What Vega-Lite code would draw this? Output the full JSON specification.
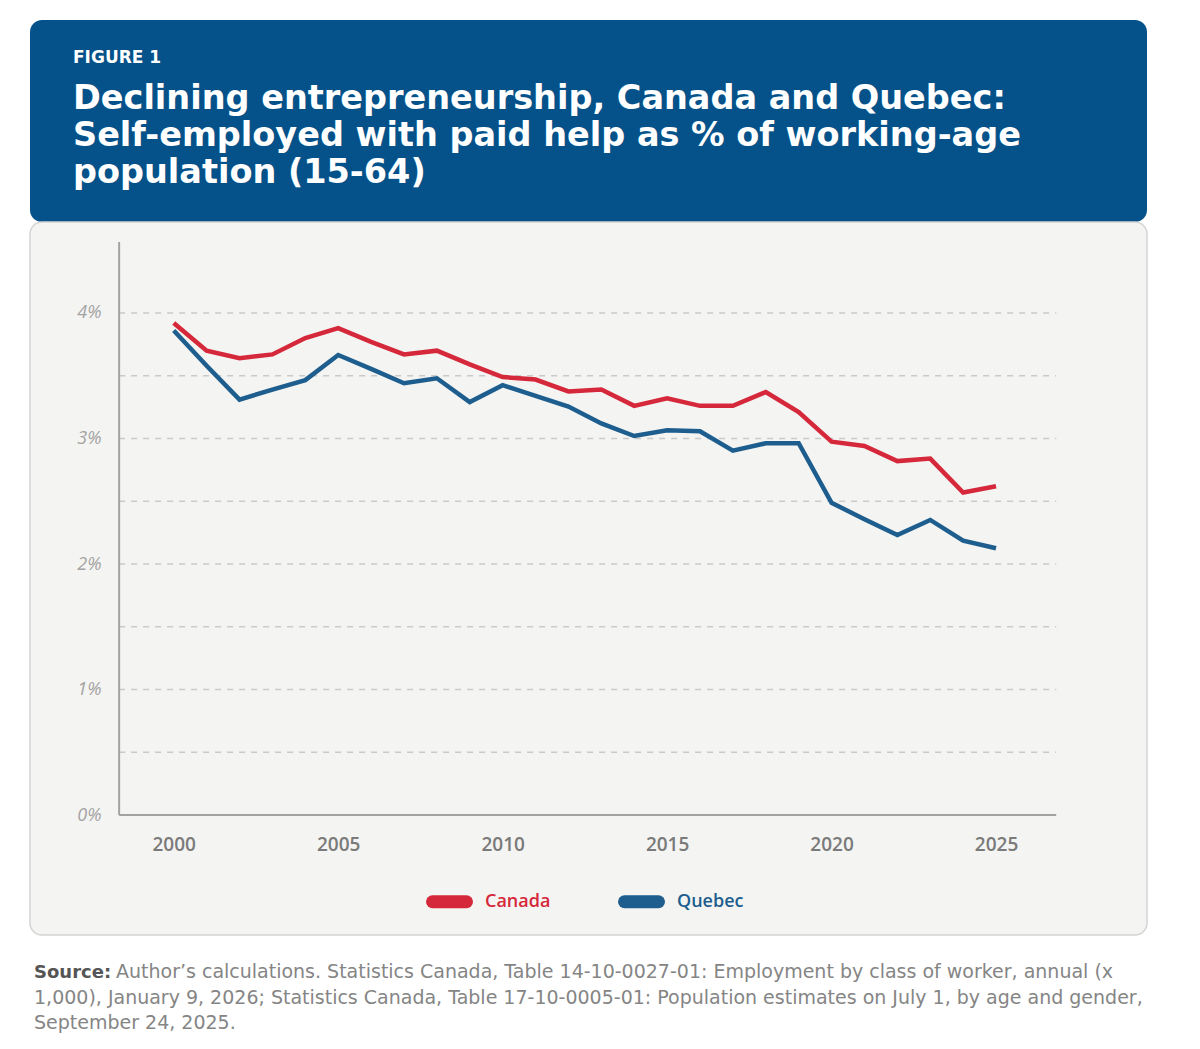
{
  "$schema": "https://vega.github.io/schema/vega-lite/v6.json",
  "background": "#ffffff",
  "padding": {"left": 29, "top": 20, "right": 54, "bottom": 10},
  "bounds": "flush",
  "spacing": 0,
  "config": {"font": "Open Sans"},
  "vconcat": [
    {
      "width": 1117,
      "height": 202,
      "view": {"fill": "#05528a", "stroke": null, "cornerRadius": 12},
      "title": {
        "text": "FIGURE 1",
        "subtitle": [
          "Declining entrepreneurship, Canada and Quebec:",
          "Self-employed with paid help as % of working-age",
          "population (15-64)"
        ],
        "orient": "top",
        "anchor": "start",
        "frame": "group",
        "offset": -170,
        "dx": 43,
        "font": "DejaVu Sans",
        "fontSize": 17,
        "fontWeight": 700,
        "color": "#ffffff",
        "subtitleFont": "DejaVu Sans",
        "subtitleFontSize": 33.5,
        "subtitleFontWeight": 700,
        "subtitleColor": "#ffffff",
        "subtitleLineHeight": 37,
        "subtitlePadding": 16
      },
      "data": {"values": []},
      "mark": "text"
    },
    {
      "width": 1117,
      "height": 713,
      "view": {"fill": "#f4f4f2", "stroke": "#d4d4d4", "strokeWidth": 1.5, "cornerRadius": 12},
      "title": {
        "text": "Source:",
        "subtitle": [
          "1,000), January 9, 2026; Statistics Canada, Table 17-10-0005-01: Population estimates on July 1, by age and gender,",
          "September 24, 2025."
        ],
        "orient": "bottom",
        "anchor": "start",
        "frame": "group",
        "offset": 29,
        "dx": 4,
        "font": "DejaVu Sans",
        "fontSize": 18,
        "fontWeight": 700,
        "color": "#555555",
        "subtitleFont": "DejaVu Sans",
        "subtitleFontSize": 19,
        "subtitleFontWeight": 400,
        "subtitleColor": "#858585",
        "subtitleLineHeight": 25,
        "subtitlePadding": 7
      },
      "layer": [
        {
          "data": {"values": [{"g": 0.5}, {"g": 1}, {"g": 1.5}, {"g": 2}, {"g": 2.5}, {"g": 3}, {"g": 3.5}, {"g": 4}]},
          "mark": {"type": "rule", "color": "#c9c9c9", "strokeWidth": 1.5, "strokeDash": [6, 6]},
          "encoding": {
            "y": {
              "field": "g",
              "type": "quantitative",
              "scale": {"domain": [-0.956, 4.725], "nice": false, "zero": false},
              "axis": {
                "title": null, "orient": "left", "offset": -89, "values": [0, 1, 2, 3, 4],
                "labelExpr": "datum.value + '%'", "domain": false, "ticks": false, "grid": false,
                "labelPadding": 18, "labelFont": "Open Sans", "labelFontSize": 18,
                "labelFontStyle": "italic", "labelFontWeight": 400, "labelColor": "#a3a3a3"
              }
            },
            "x": {
              "datum": 1998.34,
              "type": "quantitative",
              "scale": {"domain": [1995.63, 2029.59], "nice": false, "zero": false},
              "axis": {
                "title": null, "orient": "bottom", "offset": -120,
                "values": [2000, 2005, 2010, 2015, 2020, 2025], "format": "d",
                "domain": false, "ticks": false, "grid": false, "labelPadding": 20,
                "labelFont": "Open Sans", "labelFontSize": 19, "labelFontWeight": 600, "labelColor": "#7a7a7a"
              }
            },
            "x2": {"datum": 2026.83}
          }
        },
        {
          "data": {"values": [{}]},
          "mark": {"type": "rule", "color": "#a3a3a3", "strokeWidth": 2},
          "encoding": {
            "y": {"datum": 0, "type": "quantitative"},
            "x": {"datum": 1998.34, "type": "quantitative"},
            "x2": {"datum": 2026.83}
          }
        },
        {
          "data": {"values": [{}]},
          "mark": {"type": "rule", "color": "#a3a3a3", "strokeWidth": 2},
          "encoding": {
            "x": {"datum": 1998.34, "type": "quantitative"},
            "y": {"datum": 0, "type": "quantitative"},
            "y2": {"datum": 4.566}
          }
        },
        {
          "data": {
            "values": [
              {"year": 2000, "region": "Canada", "value": 3.92},
              {"year": 2001, "region": "Canada", "value": 3.70},
              {"year": 2002, "region": "Canada", "value": 3.64},
              {"year": 2003, "region": "Canada", "value": 3.67},
              {"year": 2004, "region": "Canada", "value": 3.80},
              {"year": 2005, "region": "Canada", "value": 3.88},
              {"year": 2006, "region": "Canada", "value": 3.77},
              {"year": 2007, "region": "Canada", "value": 3.67},
              {"year": 2008, "region": "Canada", "value": 3.70},
              {"year": 2009, "region": "Canada", "value": 3.59},
              {"year": 2010, "region": "Canada", "value": 3.49},
              {"year": 2011, "region": "Canada", "value": 3.47},
              {"year": 2012, "region": "Canada", "value": 3.375},
              {"year": 2013, "region": "Canada", "value": 3.39},
              {"year": 2014, "region": "Canada", "value": 3.26},
              {"year": 2015, "region": "Canada", "value": 3.32},
              {"year": 2016, "region": "Canada", "value": 3.26},
              {"year": 2017, "region": "Canada", "value": 3.26},
              {"year": 2018, "region": "Canada", "value": 3.37},
              {"year": 2019, "region": "Canada", "value": 3.21},
              {"year": 2020, "region": "Canada", "value": 2.975},
              {"year": 2021, "region": "Canada", "value": 2.94},
              {"year": 2022, "region": "Canada", "value": 2.82},
              {"year": 2023, "region": "Canada", "value": 2.84},
              {"year": 2024, "region": "Canada", "value": 2.57},
              {"year": 2025, "region": "Canada", "value": 2.62},
              {"year": 2000, "region": "Quebec", "value": 3.86},
              {"year": 2001, "region": "Quebec", "value": 3.58},
              {"year": 2002, "region": "Quebec", "value": 3.31},
              {"year": 2003, "region": "Quebec", "value": 3.39},
              {"year": 2004, "region": "Quebec", "value": 3.465},
              {"year": 2005, "region": "Quebec", "value": 3.665},
              {"year": 2006, "region": "Quebec", "value": 3.555},
              {"year": 2007, "region": "Quebec", "value": 3.44},
              {"year": 2008, "region": "Quebec", "value": 3.48},
              {"year": 2009, "region": "Quebec", "value": 3.29},
              {"year": 2010, "region": "Quebec", "value": 3.425},
              {"year": 2011, "region": "Quebec", "value": 3.34},
              {"year": 2012, "region": "Quebec", "value": 3.255},
              {"year": 2013, "region": "Quebec", "value": 3.12},
              {"year": 2014, "region": "Quebec", "value": 3.02},
              {"year": 2015, "region": "Quebec", "value": 3.065},
              {"year": 2016, "region": "Quebec", "value": 3.057},
              {"year": 2017, "region": "Quebec", "value": 2.903},
              {"year": 2018, "region": "Quebec", "value": 2.962},
              {"year": 2019, "region": "Quebec", "value": 2.962},
              {"year": 2020, "region": "Quebec", "value": 2.488},
              {"year": 2021, "region": "Quebec", "value": 2.356},
              {"year": 2022, "region": "Quebec", "value": 2.231},
              {"year": 2023, "region": "Quebec", "value": 2.351},
              {"year": 2024, "region": "Quebec", "value": 2.186},
              {"year": 2025, "region": "Quebec", "value": 2.125}
            ]
          },
          "mark": {"type": "line", "strokeWidth": 4.5},
          "encoding": {
            "x": {"field": "year", "type": "quantitative"},
            "y": {"field": "value", "type": "quantitative"},
            "color": {
              "field": "region",
              "type": "nominal",
              "scale": {"domain": ["Canada", "Quebec"], "range": ["#d6283b", "#1d5e8e"]},
              "legend": {
                "title": null,
                "orient": "none",
                "legendX": 396,
                "legendY": 858,
                "direction": "horizontal",
                "symbolType": "stroke",
                "symbolSize": 1156,
                "symbolStrokeWidth": 13,
                "labelFont": "Open Sans",
                "labelFontSize": 18,
                "labelFontWeight": 600,
                "labelOffset": 12,
                "columnPadding": 47,
                "encode": {
                  "symbols": {"update": {"strokeCap": {"value": "round"}, "strokeWidth": {"value": 13}}},
                  "labels": {"update": {"fill": {"scale": "color", "field": "value"}}}
                }
              }
            }
          }
        }
      ]
    },
    {
      "width": 1117,
      "height": 0,
      "view": {"fill": null, "stroke": null},
      "title": {
        "text": "Author’s calculations. Statistics Canada, Table 14-10-0027-01: Employment by class of worker, annual (x",
        "orient": "bottom",
        "anchor": "start",
        "frame": "group",
        "offset": 8,
        "dx": 86,
        "font": "DejaVu Sans",
        "fontSize": 19,
        "fontWeight": 400,
        "color": "#858585"
      },
      "data": {"values": []},
      "mark": "text"
    }
  ]
}
